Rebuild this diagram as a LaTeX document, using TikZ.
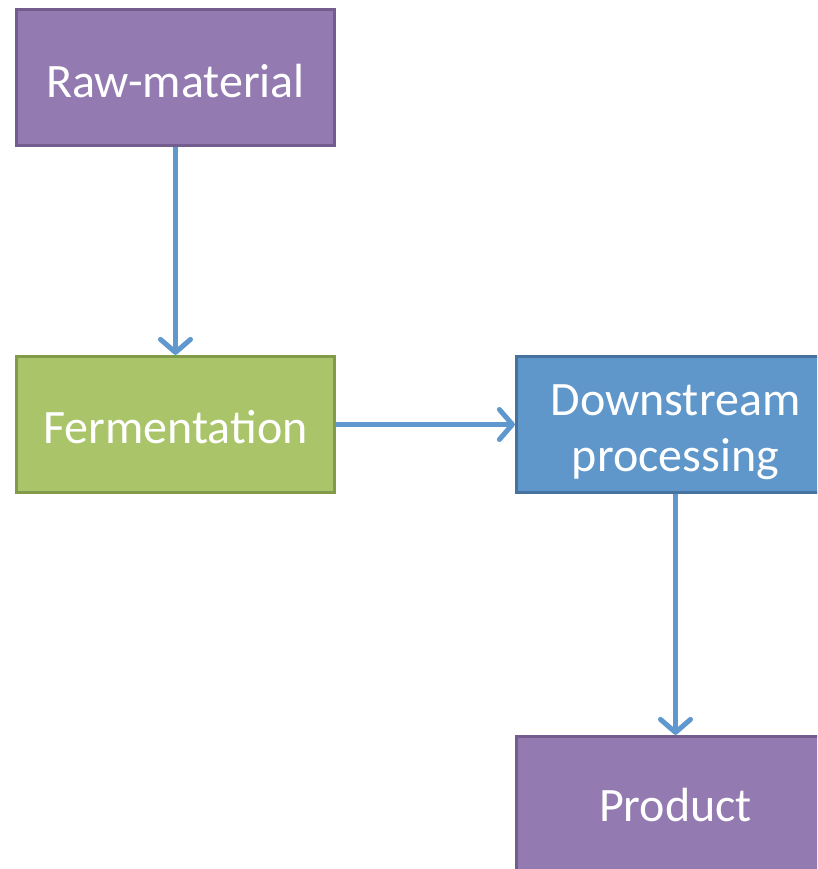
\documentclass[tikz,border=0pt]{standalone}
\usepackage{fontspec}
\setmainfont{Carlito}
\usetikzlibrary{arrows.meta}
\definecolor{purplefill}{HTML}{937AB0}
\definecolor{purpleedge}{HTML}{735C8E}
\definecolor{greenfill}{HTML}{AAC46A}
\definecolor{greenedge}{HTML}{819B4A}
\definecolor{bluefill}{HTML}{6097CA}
\definecolor{blueedge}{HTML}{46729F}
\definecolor{flowline}{HTML}{5E98CE}
\tikzset{
  stagetext/.style={text=white, align=center,
    font=\fontsize{48}{56}\selectfont},
  stage/.style={rectangle, draw, line width=3.2pt, minimum width=318pt,
    minimum height=136pt, inner sep=0pt},
  rawstage/.style={stage, fill=purplefill, draw=purpleedge},
  fermstage/.style={stage, fill=greenfill, draw=greenedge},
  downstage/.style={stage, fill=bluefill, draw=blueedge},
  caption/.style 2 args={label={[stagetext, yshift=#1]center:#2}},
  flow/.style={draw=flowline, line width=5pt,
    -{Straight Barb[length=13pt,width=30pt,round]}}
}
\begin{document}
\begin{tikzpicture}[x=1pt,y=-1pt]
  \useasboundingbox (0,0) rectangle (817,869);
  \clip (0,0) rectangle (817,869);
  \fill[white] (0,0) rectangle (817,869);
  \node[rawstage,  caption={-4pt}{Raw-material}]           (raw)  at (175.5,77.5)  {};
  \node[fermstage, caption={-3pt}{Fermentation}]           (ferm) at (175.5,424.5) {};
  \node[downstage, caption={-8pt}{Downstream\\processing}] (down) at (675.5,424.5) {};
  \node[rawstage,  caption={-1pt}{Product}]                (prod) at (675.5,804.5) {};
  \draw[flow] (raw.south)  -- (ferm.north);
  \draw[flow] (ferm.east)  -- (down.west);
  \draw[flow] (down.south) -- (prod.north);
\end{tikzpicture}
\end{document}
